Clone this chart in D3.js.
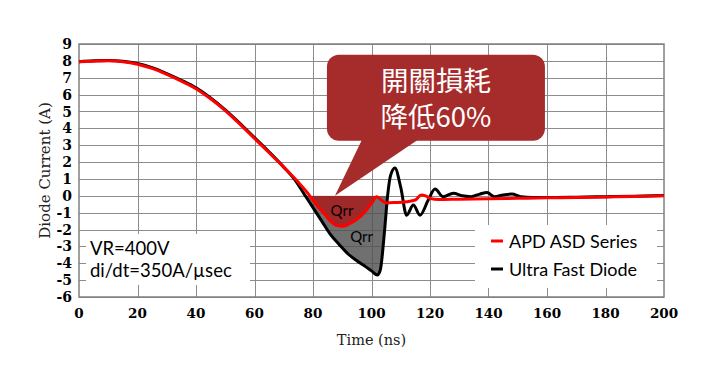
<!DOCTYPE html>
<html>
<head>
<meta charset="utf-8">
<script src="https://cdn.jsdelivr.net/npm/d3@7"></script>
<style>
  body { margin: 0; background: #fff; }
  svg { display: block; }
</style>
</head>
<body>
<svg id="chart" width="705" height="371"></svg>
<script>
// reverse recovery current
const time_apd = [0, 5, 10, 15, 20, 25, 30, 35, 40, 45, 50, 55, 60, 65, 70, 75, 78, 81, 84, 86, 88, 90, 92, 95, 98, 100, 101.8, 103, 105, 108, 112, 115, 117, 118.5, 120, 123, 130, 140, 150, 160, 170, 180, 190, 200];
const current_apd = [7.95, 7.98, 8.0, 7.95, 7.8, 7.55, 7.2, 6.8, 6.35, 5.75, 5.05, 4.25, 3.4, 2.55, 1.7, 0.8, 0.2, -0.5, -1.1, -1.5, -1.75, -1.8, -1.7, -1.4, -0.9, -0.45, -0.05, -0.2, -0.42, -0.4, -0.35, -0.25, 0.05, 0.0, -0.15, -0.22, -0.2, -0.18, -0.15, -0.12, -0.1, -0.07, -0.04, 0.0];

const time_ufd = [0, 5, 10, 15, 20, 25, 30, 35, 40, 45, 50, 55, 60, 65, 70, 74, 77, 80, 83, 86, 89, 92, 95, 98, 100, 102, 103, 104.5, 105.5, 106.5, 108, 110, 112, 114.3, 116.6, 119.4, 121.7, 124.5, 128, 131, 134, 137, 139.5, 142, 145, 148, 151, 155, 160, 170, 180, 190, 200];
const current_ufd = [7.95, 8.0, 8.02, 7.98, 7.85, 7.6, 7.25, 6.85, 6.4, 5.8, 5.1, 4.3, 3.45, 2.6, 1.7, 0.9, 0.1, -0.7, -1.5, -2.3, -2.9, -3.45, -3.85, -4.2, -4.45, -4.7, -4.4, -2.0, 0.0, 1.2, 1.65, 0.5, -1.15, -0.55, -1.15, -0.25, 0.4, -0.05, 0.15, 0.0, -0.05, 0.1, 0.2, -0.05, 0.05, 0.1, -0.05, -0.1, -0.1, -0.08, -0.05, -0.02, 0.02];

// Qrr shaded spans (ns) and label anchors (ns, A)
const qrr_apd = [76.8, 101.8];
const qrr_ufd = [75.5, 105.5];
const qrr_label_apd = [89.9, -0.9];
const qrr_label_ufd = [96.6, -2.45];

const x_ticks = [0, 20, 40, 60, 80, 100, 120, 140, 160, 180, 200];
const y_ticks = [9, 8, 7, 6, 5, 4, 3, 2, 1, 0, -1, -2, -3, -4, -5, -6];
const series_names = ['APD ASD Series', 'Ultra Fast Diode'];
const series_colors = ['#ff0000', '#000000'];
const note_lines = ['VR=400V', 'di/dt=350A/µsec'];
const callout_lines = ['開關損耗', '降低60%'];
const callout_point = [87.5, 0];

const svg = d3.select('#chart');

const x = d3.scaleLinear([0, 200], [79, 664]);
const y = d3.scaleLinear([-6, 9], [297, 44]);

const apd = time_apd.map((t, i) => [t, current_apd[i]]);
const ufd = time_ufd.map((t, i) => [t, current_ufd[i]]);

// grid
const grid = svg.append('g').attr('stroke', '#8c8c8c').attr('stroke-width', 1);
grid
  .selectAll('line.h')
  .data(y_ticks)
  .join('line')
  .attr('class', 'h')
  .attr('x1', x(0))
  .attr('x2', x(200))
  .attr('y1', (d) => Math.round(y(d)) + 0.5)
  .attr('y2', (d) => Math.round(y(d)) + 0.5);
grid
  .selectAll('line.v')
  .data(x_ticks.slice(1, -1))
  .join('line')
  .attr('class', 'v')
  .attr('y1', y(9))
  .attr('y2', y(-6))
  .attr('x1', (d) => Math.round(x(d)) + 0.5)
  .attr('x2', (d) => Math.round(x(d)) + 0.5);

// Qrr fills, clipped to the span below zero
const defs = svg.append('defs');
const add_clip = (id, span) =>
  defs
    .append('clipPath')
    .attr('id', id)
    .append('rect')
    .attr('x', x(span[0]))
    .attr('width', x(span[1]) - x(span[0]))
    .attr('y', y(0))
    .attr('height', y(-6) - y(0));
add_clip('clip-ufd', qrr_ufd);
add_clip('clip-apd', qrr_apd);

const curve = d3.curveMonotoneX;
const area = d3
  .area()
  .x((d) => x(d[0]))
  .y0(y(0))
  .y1((d) => y(d[1]))
  .curve(curve);

svg
  .append('path')
  .attr('d', area(ufd))
  .attr('clip-path', 'url(#clip-ufd)')
  .attr('fill', '#505050')
  .attr('fill-opacity', 0.82);
svg
  .append('path')
  .attr('d', area(apd))
  .attr('clip-path', 'url(#clip-apd)')
  .attr('fill', '#a51f1f')
  .attr('fill-opacity', 0.88);

// white text boxes sit over the grid
svg.append('rect').attr('x', 86).attr('y', 234).attr('width', 164).attr('height', 51).attr('fill', '#fff');
svg.append('rect').attr('x', 475).attr('y', 225).attr('width', 182).attr('height', 63).attr('fill', '#fff');

// plot frame
svg
  .append('rect')
  .attr('x', x(0))
  .attr('y', y(9))
  .attr('width', x(200) - x(0))
  .attr('height', y(-6) - y(9))
  .attr('fill', 'none')
  .attr('stroke', '#808080')
  .attr('stroke-width', 1.5);

// curves
const line = d3
  .line()
  .x((d) => x(d[0]))
  .y((d) => y(d[1]))
  .curve(curve);
svg
  .append('path')
  .attr('d', line(ufd))
  .attr('fill', 'none')
  .attr('stroke', series_colors[1])
  .attr('stroke-width', 3)
  .attr('stroke-linejoin', 'round');
svg
  .append('path')
  .attr('d', line(apd))
  .attr('fill', 'none')
  .attr('stroke', series_colors[0])
  .attr('stroke-width', 3)
  .attr('stroke-linejoin', 'round');

// tick labels
const tick_font = 'DejaVu Serif';
svg
  .append('g')
  .selectAll('text')
  .data(y_ticks)
  .join('text')
  .attr('x', 72)
  .attr('y', (d) => y(d))
  .attr('dy', '0.36em')
  .attr('text-anchor', 'end')
  .attr('font-family', tick_font)
  .attr('font-weight', 'bold')
  .attr('font-size', 14)
  .text((d) => d);
svg
  .append('g')
  .selectAll('text')
  .data(x_ticks)
  .join('text')
  .attr('x', (d) => x(d))
  .attr('y', 318)
  .attr('text-anchor', 'middle')
  .attr('font-family', tick_font)
  .attr('font-weight', 'bold')
  .attr('font-size', 13.5)
  .text((d) => d);

// axis titles
svg
  .append('text')
  .attr('transform', `translate(50,${(y(9) + y(-6)) / 2}) rotate(-90)`)
  .attr('text-anchor', 'middle')
  .attr('font-family', tick_font)
  .attr('font-size', 15)
  .attr('fill', '#222')
  .text('Diode Current (A)');
svg
  .append('text')
  .attr('x', (x(0) + x(200)) / 2)
  .attr('y', 345)
  .attr('text-anchor', 'middle')
  .attr('font-family', tick_font)
  .attr('font-size', 14.5)
  .attr('fill', '#222')
  .text('Time (ns)');

// Qrr labels
const label_font = 'Lato, "Open Sans", sans-serif';
[qrr_label_apd, qrr_label_ufd].forEach((p) =>
  svg
    .append('text')
    .attr('x', x(p[0]))
    .attr('y', y(p[1]))
    .attr('dy', '0.35em')
    .attr('text-anchor', 'middle')
    .attr('font-family', label_font)
    .attr('font-size', 15)
    .text('Qrr')
);

// test condition note
svg
  .append('g')
  .selectAll('text')
  .data(note_lines)
  .join('text')
  .attr('x', 90)
  .attr('y', (d, i) => 255 + i * 22)
  .attr('font-family', label_font)
  .attr('font-size', 18.5)
  .text((d) => d);

// legend
const legend = svg
  .append('g')
  .selectAll('g')
  .data(series_names)
  .join('g')
  .attr('transform', (d, i) => `translate(491,${241 + i * 28})`);
legend
  .append('line')
  .attr('x2', 12)
  .attr('stroke', (d, i) => series_colors[i])
  .attr('stroke-width', 3);
legend
  .append('text')
  .attr('x', 18)
  .attr('y', 7)
  .attr('font-family', label_font)
  .attr('font-size', 18)
  .text((d) => d);

// callout
const tip_x = x(callout_point[0]);
const tip_y = y(callout_point[1]);
const callout = svg.append('g').attr('fill', '#a62b2b');
callout
  .append('path')
  .attr('d', `M${tip_x},${tip_y} L${tip_x + 27},${tip_y - 56} L${tip_x + 83},${tip_y - 56} Z`);
callout
  .append('rect')
  .attr('x', tip_x - 8)
  .attr('y', tip_y - 141)
  .attr('width', 218)
  .attr('height', 86)
  .attr('rx', 12);
callout
  .append('text')
  .attr('text-anchor', 'middle')
  .attr('fill', '#fff')
  .attr('font-family', '"Noto Sans CJK TC", sans-serif')
  .attr('font-size', 27.5)
  .selectAll('tspan')
  .data(callout_lines)
  .join('tspan')
  .attr('x', tip_x + 101)
  .attr('y', (d, i) => tip_y - 105 + i * 36)
  .text((d) => d);
</script>
</body>
</html>
